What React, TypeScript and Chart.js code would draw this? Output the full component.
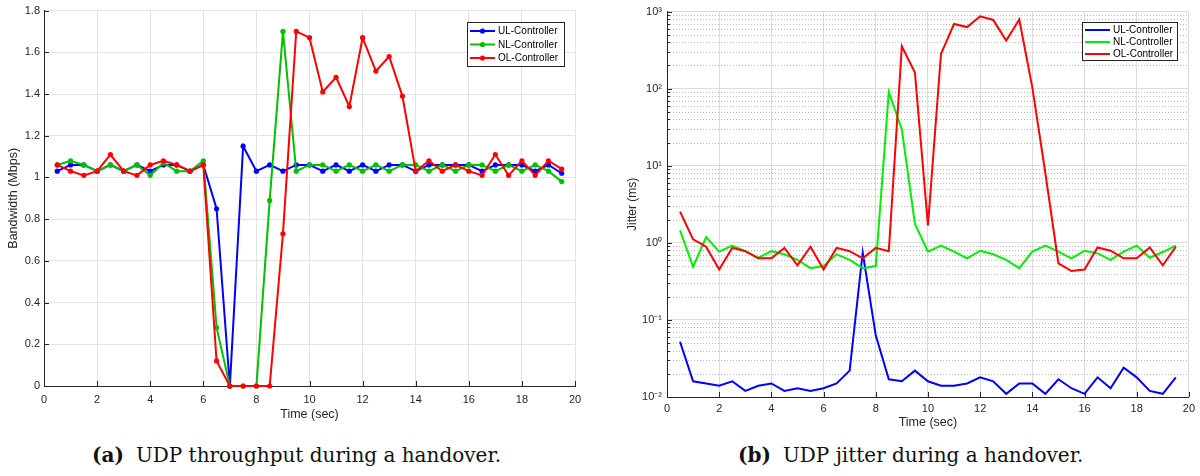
import React, { useEffect, useRef } from 'react';
import { Chart, registerables } from 'chart.js';

Chart.register(...registerables);

// ---------------- data ----------------
const times = [
  0.5, 1, 1.5, 2, 2.5, 3, 3.5, 4, 4.5, 5, 5.5, 6, 6.5, 7, 7.5, 8, 8.5, 9, 9.5, 10,
  10.5, 11, 11.5, 12, 12.5, 13, 13.5, 14, 14.5, 15, 15.5, 16, 16.5, 17, 17.5, 18, 18.5, 19, 19.5,
];

const seriesNames = ['UL-Controller', 'NL-Controller', 'OL-Controller'];

// (a) UDP throughput, Mbps
const ulThroughput = [
  1.03, 1.06, 1.06, 1.03, 1.06, 1.03, 1.06, 1.03, 1.06, 1.06, 1.03, 1.06, 0.85, 0.0, 1.15, 1.03, 1.06, 1.03, 1.06, 1.06,
  1.03, 1.06, 1.03, 1.06, 1.03, 1.06, 1.06, 1.03, 1.06, 1.06, 1.06, 1.06, 1.03, 1.06, 1.06, 1.06, 1.03, 1.06, 1.02,
];
const nlThroughput = [
  1.06, 1.08, 1.06, 1.03, 1.06, 1.03, 1.06, 1.01, 1.07, 1.03, 1.03, 1.08, 0.28, 0.0, 0.0, 0.0, 0.89, 1.7, 1.03, 1.06,
  1.06, 1.03, 1.06, 1.03, 1.06, 1.03, 1.06, 1.06, 1.03, 1.06, 1.03, 1.06, 1.06, 1.03, 1.06, 1.03, 1.06, 1.03, 0.98,
];
const olThroughput = [
  1.06, 1.03, 1.01, 1.03, 1.11, 1.03, 1.01, 1.06, 1.08, 1.06, 1.03, 1.06, 0.12, 0.0, 0.0, 0.0, 0.0, 0.73, 1.7, 1.67,
  1.41, 1.48, 1.34, 1.67, 1.51, 1.58, 1.39, 1.03, 1.08, 1.03, 1.06, 1.03, 1.01, 1.11, 1.01, 1.08, 1.01, 1.08, 1.04,
];

// (b) UDP jitter, ms
const ulJitter = [
  0.052, 0.016, 0.015, 0.014, 0.016, 0.012, 0.014, 0.015, 0.012, 0.013, 0.012, 0.013, 0.015, 0.022, 0.75, 0.063, 0.017, 0.016, 0.022, 0.016,
  0.014, 0.014, 0.015, 0.018, 0.016, 0.011, 0.015, 0.015, 0.011, 0.017, 0.013, 0.011, 0.018, 0.013, 0.024, 0.018, 0.012, 0.011, 0.018,
];
const nlJitter = [
  1.45, 0.49, 1.19, 0.77, 0.92, 0.78, 0.64, 0.78, 0.71, 0.6, 0.47, 0.5, 0.71, 0.6, 0.47, 0.5, 91, 29.5, 1.77, 0.77,
  0.92, 0.77, 0.63, 0.79, 0.71, 0.6, 0.47, 0.77, 0.92, 0.77, 0.63, 0.79, 0.73, 0.6, 0.77, 0.92, 0.64, 0.76, 0.92,
];
const olJitter = [
  2.54, 1.11, 0.89, 0.45, 0.86, 0.78, 0.63, 0.63, 0.86, 0.51, 0.89, 0.45, 0.86, 0.78, 0.63, 0.86, 0.78, 354, 162, 1.68,
  282, 690, 630, 870, 780, 420, 790, 104, 8, 0.54, 0.43, 0.45, 0.87, 0.79, 0.63, 0.63, 0.87, 0.51, 0.89,
];

// axes
const xTickValues = [0, 2, 4, 6, 8, 10, 12, 14, 16, 18, 20];
const throughputTickLabels = ['0', '0.2', '0.4', '0.6', '0.8', '1', '1.2', '1.4', '1.6', '1.8'];
const jitterDecades = [0.01, 0.1, 1, 10, 100, 1000];
const jitterDecadeLabels = ['10⁻²', '10⁻¹', '10⁰', '10¹', '10²', '10³'];
const jitterMinorSteps = [2, 3, 4, 5, 6, 7, 8, 9];

const captionA = 'UDP throughput during a handover.';
const captionB = 'UDP jitter during a handover.';

// ---------------- styling ----------------
const AX = '#262626';
const SANS = "'Liberation Sans', Arial, sans-serif";
const leftColors = ['#0000ff', '#00c000', '#ff0000'];
const rightColors = ['#0000ff', '#00ee00', '#ff0000'];

const isDecade = (v: number) => {
  const l = Math.log10(v);
  return Math.abs(l - Math.round(l)) < 1e-9;
};

const jitterMinorValues: number[] = [];
jitterDecades.slice(0, -1).forEach((d) => jitterMinorSteps.forEach((m) => jitterMinorValues.push(+(d * m).toPrecision(6))));
const jitterAllTicks = [...jitterDecades, ...jitterMinorValues].sort((a, b) => a - b);

function boxLegend(cfg: {
  right: number; top: number; width: number; height: number;
  firstRow: number; rowGap: number; markers: boolean;
}) {
  return {
    id: 'boxLegend',
    afterDraw(chart: any) {
      const { ctx, chartArea: a } = chart;
      const x0 = Math.round(a.right - cfg.right - cfg.width);
      const y0 = Math.round(a.top + cfg.top);
      ctx.save();
      ctx.fillStyle = '#ffffff';
      ctx.fillRect(x0, y0, cfg.width, cfg.height);
      ctx.strokeStyle = AX;
      ctx.lineWidth = 1;
      ctx.strokeRect(x0 + 0.5, y0 + 0.5, cfg.width, cfg.height);
      chart.data.datasets.forEach((ds: any, i: number) => {
        const y = y0 + cfg.firstRow + i * cfg.rowGap;
        ctx.strokeStyle = ds.borderColor;
        ctx.lineWidth = 2;
        ctx.beginPath();
        ctx.moveTo(x0 + 3, y);
        ctx.lineTo(x0 + 28, y);
        ctx.stroke();
        if (cfg.markers) {
          ctx.fillStyle = ds.borderColor;
          ctx.beginPath();
          ctx.arc(x0 + 15.5, y, 2.6, 0, Math.PI * 2);
          ctx.fill();
        }
        ctx.fillStyle = '#000';
        ctx.font = `10px ${SANS}`;
        ctx.textBaseline = 'middle';
        ctx.textAlign = 'left';
        ctx.fillText(ds.label, x0 + 31, y + 0.5);
      });
      ctx.restore();
    },
  };
}

const inwardTicks = {
  id: 'inwardTicks',
  beforeDatasetsDraw(chart: any) {
    const { ctx, chartArea: a, scales } = chart;
    ctx.save();
    ctx.strokeStyle = AX;
    ctx.lineWidth = 1;
    scales.x.ticks.forEach((t: any) => {
      const px = Math.round(scales.x.getPixelForValue(t.value)) + 0.5;
      ctx.beginPath();
      ctx.moveTo(px, a.bottom);
      ctx.lineTo(px, a.bottom - 5);
      ctx.stroke();
    });
    const log = scales.y.type === 'logarithmic';
    scales.y.ticks.forEach((t: any) => {
      const py = Math.round(scales.y.getPixelForValue(t.value)) + 0.5;
      const len = log && !isDecade(t.value) ? 3 : 5;
      ctx.beginPath();
      ctx.moveTo(a.left, py);
      ctx.lineTo(a.left + len, py);
      ctx.stroke();
    });
    ctx.restore();
  },
};

const minorGrid = {
  id: 'minorGrid',
  beforeDatasetsDraw(chart: any) {
    const { ctx, chartArea: a, scales } = chart;
    ctx.save();
    ctx.strokeStyle = '#b8b8b8';
    ctx.lineWidth = 1;
    ctx.setLineDash([1, 2]);
    jitterMinorValues.forEach((v) => {
      const py = Math.round(scales.y.getPixelForValue(v)) + 0.5;
      ctx.beginPath();
      ctx.moveTo(a.left, py);
      ctx.lineTo(a.right, py);
      ctx.stroke();
    });
    ctx.restore();
  },
};

function ChartCanvas({ left, width, height, build }: { left: number; width: number; height: number; build: (c: HTMLCanvasElement) => Chart }) {
  const ref = useRef<HTMLCanvasElement | null>(null);
  useEffect(() => {
    if (!ref.current) return;
    const chart = build(ref.current);
    return () => chart.destroy();
  }, []);
  return (
    <canvas
      ref={ref}
      width={width}
      height={height}
      style={{ position: 'absolute', left, top: 0, width, height }}
    />
  );
}

const tickFont = { family: SANS, size: 11 };
const titleFont = { family: SANS, size: 12.5 };

function buildThroughput(canvas: HTMLCanvasElement) {
  const series = [ulThroughput, nlThroughput, olThroughput];
  return new Chart(canvas, {
    type: 'line',
    data: {
      datasets: series.map((vals, i) => ({
        label: seriesNames[i],
        data: times.map((t, j) => ({ x: t, y: vals[j] })),
        borderColor: leftColors[i],
        backgroundColor: leftColors[i],
        borderWidth: 2,
        pointRadius: 2.6,
        pointBorderWidth: 0,
        pointBackgroundColor: leftColors[i],
        tension: 0,
        order: 3 - i,
        clip: false as any,
      })),
    },
    options: {
      animation: false,
      responsive: false,
      maintainAspectRatio: false,
      layout: { padding: { left: 0, right: 25, top: 6, bottom: 0 } },
      plugins: { legend: { display: false }, tooltip: { enabled: false } },
      scales: {
        x: {
          type: 'linear',
          min: 0,
          max: 20,
          afterBuildTicks: (s: any) => { s.ticks = xTickValues.map((v) => ({ value: v })); },
          afterFit: (s: any) => { s.height = 44; },
          ticks: { font: tickFont, color: AX, padding: 7, autoSkip: false, maxRotation: 0, callback: (v: any) => String(v) },
          grid: { color: '#e3e3e3', drawTicks: false },
          border: { color: AX, width: 1 },
          title: { display: true, text: 'Time (sec)', font: titleFont, color: AX, padding: { top: 0, bottom: 8 } },
        },
        y: {
          type: 'linear',
          min: 0,
          max: 1.8,
          afterBuildTicks: (s: any) => { s.ticks = throughputTickLabels.map((l) => ({ value: parseFloat(l) })); },
          afterFit: (s: any) => { s.width = 44; },
          ticks: { font: tickFont, color: AX, padding: 4, autoSkip: false, callback: (_v: any, i: number) => throughputTickLabels[i] },
          grid: { color: '#e3e3e3', drawTicks: false },
          border: { color: AX, width: 1 },
          title: { display: true, text: 'Bandwidth (Mbps)', font: titleFont, color: AX, padding: { top: 6, bottom: 0 } },
        },
      },
    } as any,
    plugins: [inwardTicks, boxLegend({ right: 11, top: 11, width: 97, height: 44, firstRow: 9, rowGap: 13.5, markers: true })],
  });
}

function buildJitter(canvas: HTMLCanvasElement) {
  const series = [ulJitter, nlJitter, olJitter];
  return new Chart(canvas, {
    type: 'line',
    data: {
      datasets: series.map((vals, i) => ({
        label: seriesNames[i],
        data: times.map((t, j) => ({ x: t, y: vals[j] })),
        borderColor: rightColors[i],
        backgroundColor: rightColors[i],
        borderWidth: 2,
        pointRadius: 0,
        tension: 0,
        order: 3 - i,
      })),
    },
    options: {
      animation: false,
      responsive: false,
      maintainAspectRatio: false,
      layout: { padding: { left: 0, right: 10, top: 6, bottom: 0 } },
      plugins: { legend: { display: false }, tooltip: { enabled: false } },
      scales: {
        x: {
          type: 'linear',
          min: 0,
          max: 20,
          afterBuildTicks: (s: any) => { s.ticks = xTickValues.map((v) => ({ value: v })); },
          afterFit: (s: any) => { s.height = 43; },
          ticks: { font: tickFont, color: AX, padding: 5, autoSkip: false, maxRotation: 0, callback: (v: any) => String(v) },
          grid: { color: '#dcdcdc', drawTicks: false },
          border: { color: AX, width: 1 },
          title: { display: true, text: 'Time (sec)', font: titleFont, color: AX, padding: { top: 0, bottom: 10 } },
        },
        y: {
          type: 'logarithmic',
          min: 0.01,
          max: 1000,
          afterBuildTicks: (s: any) => { s.ticks = jitterAllTicks.map((v) => ({ value: v, major: isDecade(v) })); },
          afterFit: (s: any) => { s.width = 67; },
          ticks: {
            font: tickFont,
            color: AX,
            padding: 5,
            autoSkip: false,
            callback: (v: any) => {
              const k = jitterDecades.findIndex((d) => Math.abs(d - v) / d < 1e-6);
              return k >= 0 ? jitterDecadeLabels[k] : '';
            },
          },
          grid: { color: (c: any) => (c.tick && isDecade(c.tick.value) ? '#dcdcdc' : 'rgba(0,0,0,0)'), drawTicks: false },
          border: { color: AX, width: 1 },
          title: { display: true, text: 'Jitter (ms)', font: { family: SANS, size: 12 }, color: AX, padding: { top: 25, bottom: 0 } },
        },
      },
    } as any,
    plugins: [minorGrid, inwardTicks, boxLegend({ right: 12, top: 10, width: 95, height: 38, firstRow: 8, rowGap: 12, markers: false })],
  });
}

const captionStyle: React.CSSProperties = {
  position: 'absolute',
  top: 442,
  whiteSpace: 'nowrap',
  fontFamily: "'DejaVu Serif', 'Liberation Serif', serif",
  fontSize: 20,
  color: '#111',
  lineHeight: '26px',
};

export default function App() {
  return (
    <div style={{ position: 'fixed', left: 0, top: 0, width: 1200, height: 476, background: '#fff', overflow: 'hidden' }}>
      <ChartCanvas left={0} width={600} height={430} build={buildThroughput} />
      <ChartCanvas left={600} width={600} height={440} build={buildJitter} />
      <div style={{ ...captionStyle, left: 92 }}>
        <b style={{ marginRight: 12 }}>(a)</b>{captionA}
      </div>
      <div style={{ ...captionStyle, left: 738 }}>
        <b style={{ marginRight: 12 }}>(b)</b>{captionB}
      </div>
    </div>
  );
}
